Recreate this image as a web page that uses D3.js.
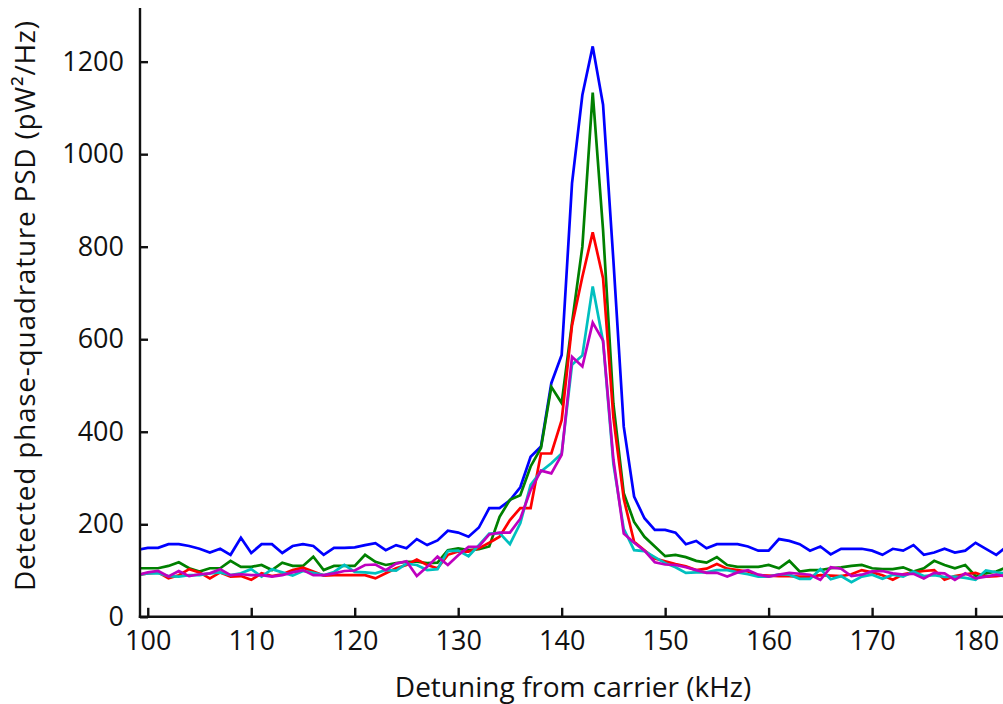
<!DOCTYPE html>
<html>
<head>
<meta charset="utf-8">
<script src="https://cdn.jsdelivr.net/npm/d3@7"></script>
<style>
  html, body { margin: 0; padding: 0; background: #fff; }
  svg { display: block; }
  text { font-family: "Open Sans", "Noto Sans", sans-serif; fill: #111; }
</style>
</head>
<body>
<div id="chart"></div>
<script>
// Detuning from carrier (kHz), one sample per kHz
const detuning = d3.range(99, 184);

const blueSeries = [145,149,149,157,157,153,147,139,147,134,171,138,157,157,138,153,157,153,134,149,149,
  150,155,159,144,155,148,168,155,165,186,182,173,193,235,235,252,280,346,368,505,566,937,1128,1233,1107,770,411,260,213,188,
  188,182,157,164,148,157,157,157,152,143,143,168,164,157,143,152,135,147,147,147,143,134,147,143,155,134,139,147,139,143,160,147,134,152];

const greenSeries = [105,105,105,110,118,105,98,105,105,121,108,108,112,101,117,110,110,130,101,110,110,
  110,134,119,112,116,119,119,116,117,144,148,144,146,152,216,253,263,325,365,497,462,635,800,1133,836,460,267,205,173,152,
  131,134,129,121,117,129,112,108,108,108,112,105,121,98,101,101,105,107,110,112,105,103,103,107,98,105,121,112,105,112,88,94,98,107];

const redSeries = [90,94,96,83,90,103,96,83,96,87,88,80,94,88,92,101,106,98,89,90,90,
  90,90,83,94,105,112,124,112,105,134,141,141,148,160,173,209,235,235,353,353,425,630,735,831,732,430,255,162,144,126,
  120,114,109,101,104,114,104,101,98,90,89,88,88,87,87,90,89,88,92,101,96,90,80,92,96,99,101,80,88,92,95,87,88,90];

const cyanSeries = [90,94,94,88,87,90,90,94,96,90,94,103,87,103,96,89,99,95,90,97,112,
  97,96,94,101,100,115,112,101,103,142,143,131,155,180,181,157,202,285,314,332,353,545,565,714,595,330,190,144,142,129,
  116,107,95,96,96,101,101,96,92,87,87,92,91,82,82,103,81,88,75,87,91,82,91,87,98,88,90,86,87,84,80,100,96,94];

const magentaSeries = [90,96,99,87,99,88,92,94,103,90,92,90,90,87,90,96,101,90,90,94,99,
  100,112,113,101,115,120,88,108,130,112,133,151,152,178,182,182,212,274,316,310,350,562,541,636,597,340,180,160,143,118,
  113,112,107,101,95,95,87,96,101,91,87,91,95,93,91,80,107,104,88,91,98,99,94,91,93,83,95,94,80,94,83,87,91,87];

const seriesNames = ["blue", "green", "red", "cyan", "magenta"];
const seriesColors = ["#0000ff", "#008000", "#ff0000", "#00bfbf", "#bf00bf"];

const xTicks = [100, 110, 120, 130, 140, 150, 160, 170, 180];
const yTicks = [0, 200, 400, 600, 800, 1000, 1200];

const xLabel = "Detuning from carrier (kHz)";
const yLabel = "Detected phase-quadrature PSD (pW\u00B2/Hz)";

const W = 1003, H = 704;
const mLeft = 140, mRight = 1003, mTop = 8, mBottom = 616.8;

const svg = d3.select("#chart").append("svg").attr("width", W).attr("height", H);

const x = d3.scaleLinear().domain([99.25, 182.65]).range([mLeft, mRight]);
const y = d3.scaleLinear().domain([0, 1316]).range([mBottom, mTop]);

svg.append("defs").append("clipPath").attr("id", "plotclip")
  .append("rect").attr("x", mLeft).attr("y", 0).attr("width", mRight - mLeft).attr("height", mBottom);

const allSeries = [blueSeries, greenSeries, redSeries, cyanSeries, magentaSeries];
const line = d3.line().x((d, i) => x(detuning[i])).y(d => y(d));

const g = svg.append("g").attr("clip-path", "url(#plotclip)");
allSeries.forEach((s, k) => {
  g.append("path").datum(s)
    .attr("class", "series " + seriesNames[k])
    .attr("d", line)
    .attr("fill", "none")
    .attr("stroke", seriesColors[k])
    .attr("stroke-width", 2.7)
    .attr("stroke-linejoin", "miter");
});

// Axes (ticks pointing inward)
const xAxis = d3.axisBottom(x).tickValues(xTicks).tickFormat(d3.format("d"))
  .tickSizeInner(-9).tickSizeOuter(0).tickPadding(14);
const yAxis = d3.axisLeft(y).tickValues(yTicks).tickFormat(d3.format("d"))
  .tickSizeInner(-8).tickSizeOuter(0).tickPadding(16);

const gx = svg.append("g").attr("transform", `translate(0,${mBottom})`).call(xAxis);
const gy = svg.append("g").attr("transform", `translate(${mLeft},0)`).call(yAxis);

[gx, gy].forEach(a => {
  a.select(".domain").attr("stroke", "#111").attr("stroke-width", 2.4);
  a.selectAll(".tick line").attr("stroke", "#111").attr("stroke-width", 2.4);
  a.selectAll(".tick text").attr("font-size", 27).attr("fill", "#111")
    .attr("font-family", "'Open Sans', 'Noto Sans', sans-serif");
});
gx.selectAll(".tick text").attr("dy", "0.71em");
gy.select(".domain").attr("d", `M0,${mTop}V${mBottom + 1.2}`);
gx.select(".domain").attr("d", `M${mLeft - 1.2},0H${mRight}`);

svg.append("text")
  .attr("x", 573)
  .attr("y", 697)
  .attr("text-anchor", "middle")
  .attr("font-size", 28)
  .text(xLabel);

svg.append("text")
  .attr("transform", `translate(35,306) rotate(-90)`)
  .attr("text-anchor", "middle")
  .attr("font-size", 28)
  .attr("textLength", 570)
  .attr("lengthAdjust", "spacing")
  .text(yLabel);
</script>
</body>
</html>
